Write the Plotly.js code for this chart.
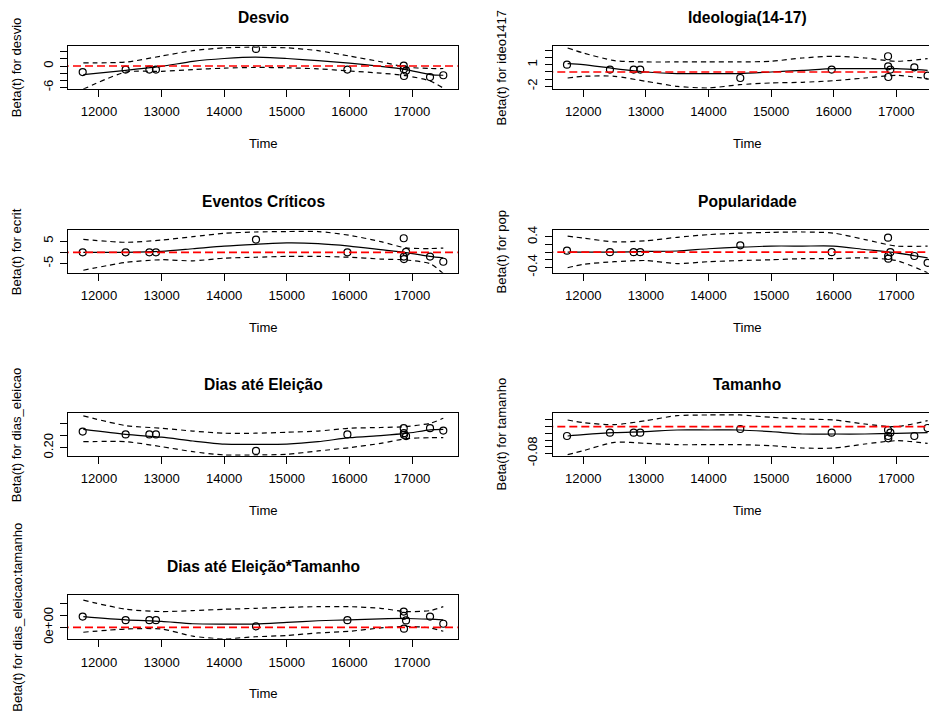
<!DOCTYPE html>
<html>
<head>
<meta charset="utf-8">
<script src="https://cdn.plot.ly/plotly-3.0.1.min.js"></script>
<style>
html, body { margin:0; padding:0; overflow:hidden; background:#fff; }
#chart { width:970px; height:718px; }
</style>
</head>
<body>
<div id="chart"></div>
<script>
// ---------- data ----------
const eventTime = [11740, 12426, 12805, 12910, 14508, 15968, 16868, 16870, 16872, 16905, 17288, 17500];
const gridL = [11750, 12430, 13000, 13500, 14000, 14500, 15000, 15500, 16000, 16500, 16900, 17290, 17500];
const gridR = [11750, 12000, 12500, 13000, 13500, 14000, 14500, 15000, 15500, 16000, 16500, 17000, 17500];
const timeTicks = [12000, 13000, 14000, 15000, 16000, 17000];
const timeTickText = ['12000', '13000', '14000', '15000', '16000', '17000'];
const timeRange = [11510, 17730];
const refLevel = 0;

const desvioRes = [-1.7, -1.0, -1.0, -1.0, 4.8, -1.0, 0.1, -0.9, -2.8, -1.3, -3.1, -2.6];
const desvioFit = [-2.4, -1.2, -0.1, 1.3, 2.1, 2.5, 2.1, 1.5, 0.8, -0.1, -1.0, -2.4, -2.6];
const desvioUp = [0.9, 1.1, 2.8, 4.3, 5.1, 5.3, 5.1, 4.3, 2.8, 1.2, -0.3, -0.7, -0.7];
const desvioLo = [-6.5, -1.7, -1.5, -1.0, -0.6, -0.4, -0.5, -0.8, -1.4, -2.0, -2.7, -4.2, -6.2];
const desvioTicks = [-6, -4, -2, 0, 2, 4];
const desvioTickText = ['-6', '', '', '0', '', ''];

const ecritRes = [0, 0, 0, 0, 5.7, 0, 6.3, -1.9, -3.0, 0.2, -1.9, -4.2];
const ecritFit = [0, 0, 0.45, 1.6, 2.8, 3.6, 4.2, 3.9, 2.8, 1.2, -0.1, -1.8, -2.5];
const ecritUp = [5.8, 4.5, 5.5, 7.0, 8.5, 9.1, 9.3, 9.3, 7.6, 4.8, 2.0, 1.7, 1.9];
const ecritLo = [-8.0, -4.5, -3.3, -3.8, -2.6, -2.2, -1.8, -1.8, -2.2, -3.0, -3.4, -5.1, -9.5];
const ecritTicks = [-5, 0, 5];
const ecritTickText = ['-5', '', '5'];

const diasRes = [0.268, 0.256, 0.256, 0.256, 0.186, 0.256, 0.282, 0.261, 0.254, 0.249, 0.282, 0.272];
const diasFit = [0.277, 0.256, 0.244, 0.228, 0.215, 0.214, 0.215, 0.225, 0.242, 0.251, 0.260, 0.275, 0.277];
const diasUp = [0.334, 0.293, 0.282, 0.270, 0.261, 0.261, 0.265, 0.270, 0.282, 0.285, 0.289, 0.303, 0.324];
const diasLo = [0.225, 0.225, 0.204, 0.183, 0.169, 0.169, 0.172, 0.186, 0.200, 0.218, 0.238, 0.242, 0.242];
const diasTicks = [0.20, 0.25, 0.30];
const diasTickText = ['0.20', '', ''];

const interRes = [0.90e-4, 0.60e-4, 0.60e-4, 0.60e-4, 0.08e-4, 0.60e-4, 1.32e-4, 0.96e-4, -0.11e-4, 0.58e-4, 0.90e-4, 0.30e-4];
const interFit = [0.90e-4, 0.63e-4, 0.49e-4, 0.30e-4, 0.27e-4, 0.27e-4, 0.41e-4, 0.55e-4, 0.63e-4, 0.71e-4, 0.74e-4, 0.68e-4, 0.63e-4];
const interUp = [2.27e-4, 1.51e-4, 1.32e-4, 1.40e-4, 1.51e-4, 1.59e-4, 1.67e-4, 1.73e-4, 1.73e-4, 1.59e-4, 1.32e-4, 1.40e-4, 1.73e-4];
const interLo = [-0.41e-4, -0.14e-4, -0.14e-4, -0.74e-4, -0.96e-4, -0.79e-4, -0.68e-4, -0.47e-4, -0.33e-4, -0.05e-4, 0.08e-4, -0.05e-4, -0.33e-4];
const interTicks = [0, 1e-4, 2e-4];
const interTickText = ['0e+00', '', ''];

const ideoRes = [1.02, 0.33, 0.33, 0.33, -0.84, 0.33, 2.19, 0.79, -0.70, 0.33, 0.65, -0.51];
const ideoFit = [1.16, 1.02, 0.47, 0.0, -0.23, -0.23, -0.23, 0.0, 0.23, 0.47, 0.47, 0.47, 0.23];
const ideoUp = [3.35, 2.65, 1.58, 1.40, 1.40, 1.40, 1.40, 1.49, 1.95, 2.19, 1.95, 1.49, 1.86];
const ideoLo = [-0.84, -0.60, -0.60, -1.30, -2.0, -2.23, -1.77, -1.53, -1.44, -1.21, -0.84, -0.47, -0.93];
const ideoTicks = [-2, -1, 0, 1, 2, 3];
const ideoTickText = ['-2', '', '', '1', '', ''];

const popRes = [0.04, 0, 0, 0, 0.18, 0, 0.38, -0.10, -0.17, 0, -0.10, -0.28];
const popFit = [0, 0, 0, 0.02, 0.03, 0.09, 0.13, 0.16, 0.16, 0.16, 0.07, -0.02, -0.15];
const popUp = [0.42, 0.37, 0.27, 0.30, 0.39, 0.46, 0.50, 0.52, 0.53, 0.50, 0.33, 0.16, 0.16];
const popLo = [-0.41, -0.32, -0.25, -0.22, -0.30, -0.25, -0.22, -0.20, -0.17, -0.17, -0.15, -0.22, -0.54];
const popTicks = [-0.4, -0.2, 0, 0.2, 0.4];
const popTickText = ['-0.4', '', '', '', '0.4'];

const tamRes = [-0.028, -0.018, -0.018, -0.018, -0.007, -0.018, -0.010, -0.028, -0.035, -0.018, -0.028, -0.004];
const tamFit = [-0.028, -0.024, -0.018, -0.015, -0.010, -0.010, -0.010, -0.015, -0.022, -0.022, -0.022, -0.020, -0.018];
const tamUp = [0.020, 0.012, 0.006, 0.018, 0.033, 0.035, 0.035, 0.028, 0.023, 0.020, 0.008, 0.0, 0.018];
const tamLo = [-0.084, -0.072, -0.047, -0.050, -0.054, -0.054, -0.054, -0.057, -0.064, -0.064, -0.052, -0.042, -0.050];
const tamTicks = [-0.08, -0.06, -0.04, -0.02, 0, 0.02];
const tamTickText = ['-0.08', '', '', '', '', ''];

// ---------- layout geometry (px) ----------
const W = 970, H = 718;
const colL = [68.3, 457.7], colR = [552.6, 942.0];
const rows = [[46.3, 88.7], [230.3, 272.7], [413.3, 455.7], [595.3, 638.8]];

const panels = [
  {title:'Desvio', ylab:'Beta(t) for desvio', col:colL, row:rows[0], grid:gridL, res:desvioRes, fit:desvioFit, up:desvioUp, lo:desvioLo, yr:[-6.37, 5.53], tv:desvioTicks, tt:desvioTickText},
  {title:'Ideologia(14-17)', ylab:'Beta(t) for ideo1417', col:colR, row:rows[0], grid:gridR, res:ideoRes, fit:ideoFit, up:ideoUp, lo:ideoLo, yr:[-2.33, 3.58], tv:ideoTicks, tt:ideoTickText},
  {title:'Eventos Críticos', ylab:'Beta(t) for ecrit', col:colL, row:rows[1], grid:gridL, res:ecritRes, fit:ecritFit, up:ecritUp, lo:ecritLo, yr:[-9.1, 9.85], tv:ecritTicks, tt:ecritTickText},
  {title:'Popularidade', ylab:'Beta(t) for pop', col:colR, row:rows[1], grid:gridR, res:popRes, fit:popFit, up:popUp, lo:popLo, yr:[-0.539, 0.574], tv:popTicks, tt:popTickText},
  {title:'Dias até Eleição', ylab:'Beta(t) for dias_eleicao', col:colL, row:rows[2], grid:gridL, res:diasRes, fit:diasFit, up:diasUp, lo:diasLo, yr:[0.166, 0.345], tv:diasTicks, tt:diasTickText},
  {title:'Tamanho', ylab:'Beta(t) for tamanho', col:colR, row:rows[2], grid:gridR, res:tamRes, fit:tamFit, up:tamUp, lo:tamLo, yr:[-0.087, 0.040], tv:tamTicks, tt:tamTickText},
  {title:'Dias até Eleição*Tamanho', ylab:'Beta(t) for dias_eleicao:tamanho', col:colL, row:rows[3], grid:gridL, res:interRes, fit:interFit, up:interUp, lo:interLo, yr:[-0.96e-4, 2.68e-4], tv:interTicks, tt:interTickText}
];

const FONT = 'Liberation Sans, Arial, Helvetica, sans-serif';
const FS = 13.1;
const traces = [];
const layout = {
  width: W, height: H,
  margin: {l:0, r:0, t:0, b:0},
  paper_bgcolor: '#ffffff', plot_bgcolor: '#ffffff',
  showlegend: false,
  font: {family: FONT, size: FS, color: '#000'},
  annotations: []
};

panels.forEach((p, i) => {
  const n = i === 0 ? '' : String(i + 1);
  const xa = 'x' + n, ya = 'y' + n;
  const [left, right] = p.col;
  const [top, bottom] = p.row;

  layout['xaxis' + n] = {
    domain: [left / W, right / W], anchor: ya, range: timeRange,
    showgrid: false, zeroline: false, showline: true, mirror: true,
    linecolor: '#000', linewidth: 1,
    ticks: 'outside', ticklen: 7, tickwidth: 1, tickcolor: '#000',
    tickvals: timeTicks, ticktext: timeTickText, ticklabelstandoff: 4,
    tickfont: {family: FONT, size: FS, color: '#000'}
  };
  layout['yaxis' + n] = {
    domain: [1 - bottom / H, 1 - top / H], anchor: xa, range: p.yr,
    showgrid: false, zeroline: false, showline: true, mirror: true,
    linecolor: '#000', linewidth: 1,
    ticks: 'outside', ticklen: 7, tickwidth: 1, tickcolor: '#000',
    tickvals: p.tv, ticktext: p.tt, tickangle: -90, ticklabelstandoff: 2,
    tickfont: {family: FONT, size: FS, color: '#000'}
  };

  // points
  traces.push({x: eventTime, y: p.res, xaxis: xa, yaxis: ya, type: 'scatter', mode: 'markers',
    marker: {symbol: 'circle-open', size: 7, color: '#000', line: {width: 1.2, color: '#000'}}, hoverinfo: 'skip'});
  // fit
  traces.push({x: p.grid, y: p.fit, xaxis: xa, yaxis: ya, type: 'scatter', mode: 'lines',
    line: {color: '#000', width: 1.2, shape: 'spline', smoothing: 0.7}, hoverinfo: 'skip'});
  // bands
  traces.push({x: p.grid, y: p.up, xaxis: xa, yaxis: ya, type: 'scatter', mode: 'lines',
    line: {color: '#000', width: 1.2, dash: '5px,4px', shape: 'spline', smoothing: 0.7}, hoverinfo: 'skip'});
  traces.push({x: p.grid, y: p.lo, xaxis: xa, yaxis: ya, type: 'scatter', mode: 'lines',
    line: {color: '#000', width: 1.2, dash: '5px,4px', shape: 'spline', smoothing: 0.7}, hoverinfo: 'skip'});
  // reference line at zero
  traces.push({x: [timeRange[0] - 500, timeRange[1] + 500], y: [refLevel, refLevel], xaxis: xa, yaxis: ya,
    type: 'scatter', mode: 'lines', line: {color: '#ff0000', width: 1.6, dash: '8px,4px'}, hoverinfo: 'skip'});

  const cx = (left + right) / 2;
  layout.annotations.push({text: '<b>' + p.title + '</b>', xref: 'paper', yref: 'paper',
    x: cx / W, y: 1 - (top - 29) / H, xanchor: 'center', yanchor: 'middle', showarrow: false,
    font: {family: FONT, size: 15.6, color: '#000'}});
  layout.annotations.push({text: 'Time', xref: 'paper', yref: 'paper',
    x: cx / W, y: 1 - (bottom + 55) / H, xanchor: 'center', yanchor: 'middle', showarrow: false,
    font: {family: FONT, size: FS, color: '#000'}});
  layout.annotations.push({text: p.ylab, xref: 'paper', yref: 'paper', textangle: -90,
    x: (left - 51.5) / W, y: 1 - ((top + bottom) / 2) / H, xanchor: 'center', yanchor: 'middle', showarrow: false,
    font: {family: FONT, size: FS, color: '#000'}});
});

Plotly.newPlot('chart', traces, layout, {staticPlot: true, displayModeBar: false});
</script>
</body>
</html>
